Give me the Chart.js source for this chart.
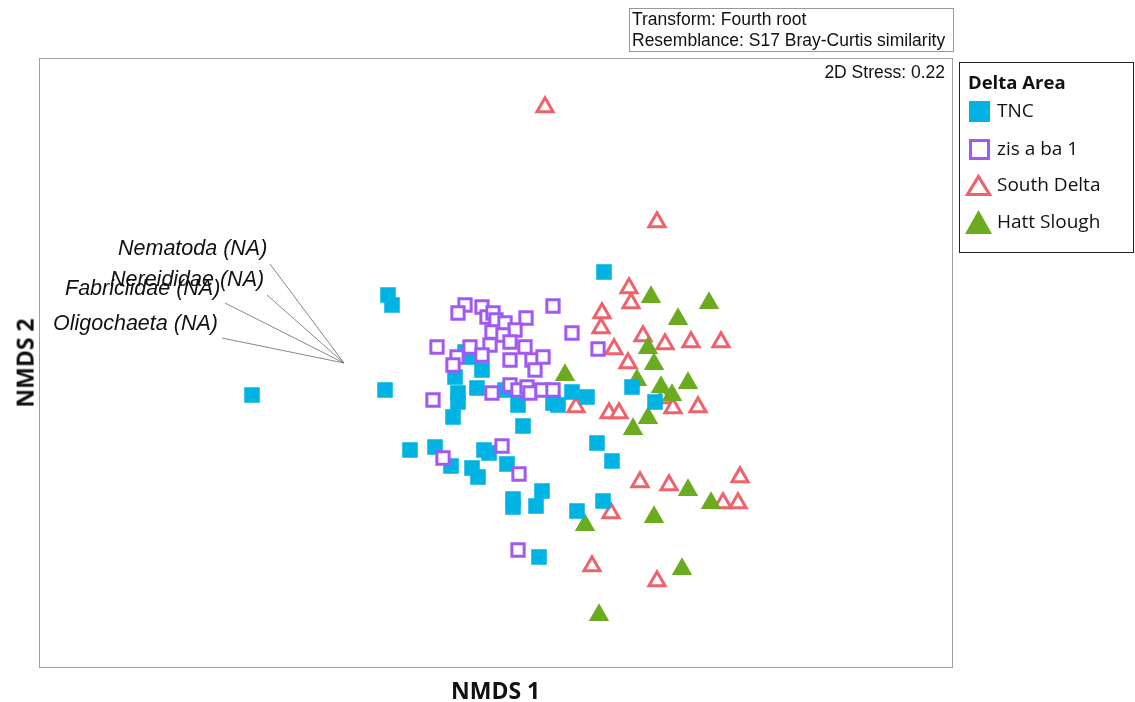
<!DOCTYPE html>
<html>
<head>
<meta charset="utf-8">
<script src="https://cdn.jsdelivr.net/npm/chart.js@4.4.1/dist/chart.umd.min.js"></script>
<style>
  body { margin: 0; background: #fff; }
  #wrap { position: relative; width: 1135px; height: 702px; }
  #grafico { position: absolute; left: 0; top: 0; }
  .txt { position: absolute; white-space: nowrap; color: #111; }
  .arial { font-family: "Liberation Sans", Arial, sans-serif; }
  .sans { font-family: "Open Sans", "Noto Sans", sans-serif; }
  #info { left: 629px; top: 8px; width: 325px; height: 44px; border: 1px solid #999; font-size: 17.5px; line-height: 21px; padding-left: 2px; box-sizing: border-box; }
  #legend { position: absolute; left: 959px; top: 62px; width: 175px; height: 191px; border: 1px solid #222; box-sizing: border-box; }
  .vlab { font-size: 21.5px; font-style: italic; }
</style>
</head>
<body>
<div id="wrap">
  <canvas id="grafico" width="1135" height="702"></canvas>
  <div id="info" class="txt arial">Transform: Fourth root<br>Resemblance: S17 Bray-Curtis similarity</div>
  <div class="txt arial" style="right:190px; top:62px; font-size:17.5px;">2D Stress: 0.22</div>
  <div id="legend" class="sans"></div>
  <div class="txt sans" style="left:451px; top:674px; font-size:23px; font-weight:700;">NMDS 1</div>
  <div class="txt sans" style="left:-20px; top:347px; font-size:23px; font-weight:700; transform:rotate(-90deg); transform-origin:center;">NMDS 2</div>
</div>
<script>
// ordination scores (plot units, y grows downward)
const tnc = [[604,272],[388,295],[392,305],[252,395],[385,390],[465,352],[470,357],[455,377],[482,370],
  [458,393],[477,388],[458,402],[453,417],[505,390],[518,405],[523,426],[553,403],[558,405],[572,392],
  [587,397],[632,387],[655,402],[410,450],[435,447],[451,466],[484,450],[489,453],[472,468],[478,477],
  [507,464],[513,499],[513,507],[542,491],[536,506],[577,511],[597,443],[612,461],[603,501],[539,557]];
const zis = [[465,305],[458,313],[482,307],[487,317],[493,313],[496,320],[505,323],[526,318],[553,306],
  [515,330],[492,332],[503,335],[510,342],[490,345],[470,347],[437,347],[457,357],[453,365],[482,355],
  [510,360],[525,347],[532,360],[543,357],[535,370],[572,333],[598,349],[433,400],[492,393],[510,385],
  [518,390],[527,387],[530,393],[542,390],[553,390],[443,458],[502,446],[519,474],[518,550]];
const southDelta = [[545,107],[657,222],[629,288],[631,303],[602,313],[601,328],[643,336],[614,349],
  [665,344],[691,342],[721,342],[628,363],[576,407],[609,413],[619,413],[663,398],[673,408],[698,407],
  [640,482],[669,485],[740,477],[723,503],[738,503],[611,513],[592,566],[657,581]];
const hattSlough = [[651,297],[709,303],[678,319],[648,348],[654,364],[637,380],[661,387],[672,395],
  [688,383],[648,418],[633,429],[565,375],[688,490],[711,503],[654,517],[585,525],[682,569],[599,615]];

// vector overlay (Pearson correlations)
const vecNames = ['Nematoda (NA)', 'Nereididae (NA)', 'Fabriciidae (NA)', 'Oligochaeta (NA)'];
const vecOrigin = [344, 363];
const vecEnds = [[270,264],[267,295],[225,303],[222,338]];
const vecLabelPos = [[118,236],[110,267],[65,276],[53,311]];

const xMin = 39, xMax = 953, yMin = 58, yMax = 668;

const colors = { tnc: '#00b3e3', zis: '#a259f4', south: '#f0616b', hatt: '#6aab1f' };

function pts(arr) { return arr.map(p => ({ x: p[0], y: p[1] })); }

const frameAndVectors = {
  id: 'frameAndVectors',
  beforeDatasetsDraw(chart) {
    const { ctx, chartArea: a, scales: { x, y } } = chart;
    ctx.save();
    ctx.strokeStyle = '#a0a0a0';
    ctx.lineWidth = 1;
    ctx.strokeRect(a.left + 0.5, a.top + 0.5, a.width - 1, a.height - 1);
    ctx.strokeStyle = '#6a6a6a';
    ctx.lineWidth = 0.8;
    vecEnds.forEach(e => {
      ctx.beginPath();
      ctx.moveTo(x.getPixelForValue(vecOrigin[0]), y.getPixelForValue(vecOrigin[1]));
      ctx.lineTo(x.getPixelForValue(e[0]), y.getPixelForValue(e[1]));
      ctx.stroke();
    });
    ctx.restore();
  }
};

new Chart(document.getElementById('grafico').getContext('2d'), {
  type: 'scatter',
  data: {
    datasets: [
      { label: 'TNC', data: pts(tnc), pointStyle: 'rect', pointRadius: 11, backgroundColor: colors.tnc, borderColor: colors.tnc, borderWidth: 0, order: 2 },
      { label: 'zis a ba 1', data: pts(zis), pointStyle: 'rect', pointRadius: 8.7, backgroundColor: '#fff', borderColor: colors.zis, borderWidth: 3, order: 1 },
      { label: 'South Delta', data: pts(southDelta), pointStyle: 'triangle', pointRadius: 9.3, backgroundColor: '#fff', borderColor: colors.south, borderWidth: 3, order: 4 },
      { label: 'Hatt Slough', data: pts(hattSlough), pointStyle: 'triangle', pointRadius: 11.8, backgroundColor: colors.hatt, borderColor: colors.hatt, borderWidth: 0, order: 3 }
    ]
  },
  options: {
    responsive: false,
    animation: false,
    layout: { padding: { left: xMin, right: 1135 - xMax, top: yMin, bottom: 702 - yMax } },
    scales: {
      x: { type: 'linear', min: xMin, max: xMax, display: false },
      y: { type: 'linear', min: yMin, max: yMax, reverse: true, display: false }
    },
    plugins: { legend: { display: false }, tooltip: { enabled: false } }
  },
  plugins: [frameAndVectors]
});

// vector labels
const wrap = document.getElementById('wrap');
vecNames.forEach((n, i) => {
  const d = document.createElement('div');
  d.className = 'txt arial vlab';
  d.style.left = vecLabelPos[i][0] + 'px';
  d.style.top = vecLabelPos[i][1] + 'px';
  d.textContent = n;
  wrap.appendChild(d);
});

// legend
const legendItems = [
  { name: 'TNC', svg: `<rect x="4" y="2" width="21" height="21" fill="${colors.tnc}"/>` },
  { name: 'zis a ba 1', svg: `<rect x="5.5" y="3.5" width="18" height="18" fill="#fff" stroke="${colors.zis}" stroke-width="3"/>` },
  { name: 'South Delta', svg: `<polygon points="13.5,3.5 24.5,21.5 2.5,21.5" fill="#fff" stroke="${colors.south}" stroke-width="3.2"/>` },
  { name: 'Hatt Slough', svg: `<polygon points="13.5,0 27,24 0,24" fill="${colors.hatt}"/>` }
];
const rowY = [48, 86, 122, 159];
const lg = document.getElementById('legend');
lg.innerHTML = '<div class="txt" style="left:8px; top:6px; font-size:18.5px; font-weight:700;">Delta Area</div>';
legendItems.forEach((it, i) => {
  const c = rowY[i];
  lg.innerHTML += `<svg style="position:absolute; left:5px; top:${c - 12}px" width="27" height="25">${it.svg}</svg>` +
    `<div class="txt" style="left:37px; top:${c - 14}px; font-size:19px;">${it.name}</div>`;
});
</script>
</body>
</html>
